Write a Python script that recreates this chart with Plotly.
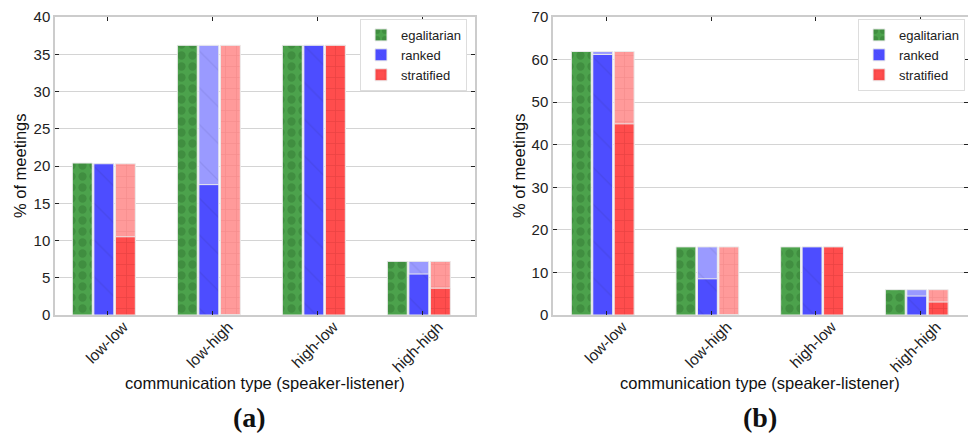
import plotly.graph_objects as go

categories = ["low-low", "low-high", "high-low", "high-high"]

# panel (a)
a_egal = [20.4, 36.2, 36.2, 7.2]
a_rank_total = [20.3, 36.2, 36.2, 7.2]
a_rank_part = [20.3, 17.5, 36.2, 5.5]
a_strat_total = [20.3, 36.2, 36.2, 7.2]
a_strat_part = [10.5, 0.0, 36.2, 3.6]

# panel (b)
b_egal = [61.9, 16.0, 16.0, 5.95]
b_rank_total = [61.9, 16.0, 16.0, 5.95]
b_rank_part = [61.2, 8.5, 16.0, 4.45]
b_strat_total = [61.9, 16.0, 16.0, 5.95]
b_strat_part = [44.9, 0.0, 16.0, 3.05]

y_ticks_a = [0, 5, 10, 15, 20, 25, 30, 35, 40]
y_ticks_b = [0, 10, 20, 30, 40, 50, 60, 70]

GREEN = "#4ca24c"
BLUE = "#4d4dff"
BLUE_L = "#9a9aff"
RED = "#ff4d4d"
RED_L = "#ff9a9a"
EDGE = "rgba(235,235,235,1)"
W = 0.19
OFF = [-0.335, -0.13, 0.075]

fig = go.Figure()

def add_panel(xa, ya, leg, egal, rt, rp, st, sp):
    x = list(range(len(categories)))
    fig.add_trace(go.Bar(x=x, y=egal, name="egalitarian", offset=OFF[0],
                         marker=dict(color=GREEN, line=dict(color=EDGE, width=1),
                                     pattern=dict(shape=".", fgcolor="rgba(20,70,20,0.45)",
                                                  size=11, solidity=0.45, fillmode="overlay")),
                         xaxis=xa, yaxis=ya, legend=leg, width=W))
    fig.add_trace(go.Bar(x=x, y=rt, name="ranked", offset=OFF[1], showlegend=False,
                         marker=dict(color=BLUE_L, line=dict(color=EDGE, width=1),
                                     pattern=dict(shape="\\", fgcolor="rgba(60,60,140,0.25)",
                                                  size=26, solidity=0.05, fillmode="overlay")),
                         xaxis=xa, yaxis=ya, legend=leg, width=W))
    fig.add_trace(go.Bar(x=x, y=rp, name="ranked", offset=OFF[1],
                         marker=dict(color=BLUE, line=dict(color=EDGE, width=1),
                                     pattern=dict(shape="\\", fgcolor="rgba(40,40,120,0.3)",
                                                  size=26, solidity=0.05, fillmode="overlay")),
                         xaxis=xa, yaxis=ya, legend=leg, width=W))
    fig.add_trace(go.Bar(x=x, y=st, name="stratified", offset=OFF[2], showlegend=False,
                         marker=dict(color=RED_L, line=dict(color=EDGE, width=1),
                                     pattern=dict(shape="+", fgcolor="rgba(200,80,80,0.35)",
                                                  size=11, solidity=0.12, fillmode="overlay")),
                         xaxis=xa, yaxis=ya, legend=leg, width=W))
    fig.add_trace(go.Bar(x=x, y=sp, name="stratified", offset=OFF[2],
                         marker=dict(color=RED, line=dict(color=EDGE, width=1),
                                     pattern=dict(shape="+", fgcolor="rgba(140,20,20,0.4)",
                                                  size=11, solidity=0.12, fillmode="overlay")),
                         xaxis=xa, yaxis=ya, legend=leg, width=W))

add_panel("x", "y", "legend", a_egal, a_rank_total, a_rank_part, a_strat_total, a_strat_part)
add_panel("x2", "y2", "legend2", b_egal, b_rank_total, b_rank_part, b_strat_total, b_strat_part)

FONT = "Liberation Sans, Arial, sans-serif"
ydom = [(435 - 315) / 435, (435 - 17) / 435]

xcommon = dict(tickmode="array", tickvals=list(range(4)), ticktext=categories,
               tickangle=-45, ticks="inside", ticklen=4, tickcolor="#222",
               ticklabelshift=16, ticklabelstandoff=-5,
               showline=True, linecolor="#cccccc", linewidth=1.5, mirror="ticks",
               showgrid=False, zeroline=False, automargin=False,
               tickfont=dict(family=FONT, size=15.5, color="#222"))
ycommon = dict(ticks="inside", ticklen=4, tickcolor="#222",
               showline=True, linecolor="#cccccc", linewidth=1.5, mirror="ticks",
               showgrid=True, gridcolor="#d4d4d4", gridwidth=1, zeroline=False,
               automargin=False,
               tickfont=dict(family=FONT, size=15, color="#222"))

fig.update_layout(
    width=968, height=435,
    margin=dict(l=0, r=0, t=0, b=0),
    paper_bgcolor="white", plot_bgcolor="white",
    barmode="overlay",
    xaxis=dict(domain=[55 / 968, 475 / 968], range=[-0.5, 3.5], anchor="y", **xcommon),
    yaxis=dict(domain=ydom, range=[0, 40], tickvals=y_ticks_a, anchor="x", **ycommon),
    xaxis2=dict(domain=[553 / 968, 967.5 / 968], range=[-0.51, 3.45], anchor="y2", **xcommon),
    yaxis2=dict(domain=ydom, range=[0, 70], tickvals=y_ticks_b, anchor="x2", **ycommon),
    legend=dict(x=467 / 968, xanchor="right", y=1 - 19 / 435, yanchor="top",
                bgcolor="white", bordercolor="#dddddd", borderwidth=1,
                font=dict(family=FONT, size=13, color="#222"), tracegroupgap=0),
    legend2=dict(x=965 / 968, xanchor="right", y=1 - 19 / 435, yanchor="top",
                 bgcolor="white", bordercolor="#dddddd", borderwidth=1,
                 font=dict(family=FONT, size=13, color="#222"), tracegroupgap=0),
    showlegend=True,
)

annos = [
    dict(text="% of meetings", x=20 / 968, y=1 - 166 / 435, textangle=-90),
    dict(text="% of meetings", x=519 / 968, y=1 - 166 / 435, textangle=-90),
    dict(text="communication type (speaker-listener)", x=265 / 968, y=1 - 383 / 435),
    dict(text="communication type (speaker-listener)", x=760 / 968, y=1 - 383 / 435),
]
for a in annos:
    fig.add_annotation(xref="paper", yref="paper", showarrow=False,
                       xanchor="center", yanchor="middle",
                       font=dict(family=FONT, size=16.5, color="#111"), **a)
for txt, xc in [("(a)", 250), ("(b)", 760)]:
    fig.add_annotation(xref="paper", yref="paper", showarrow=False, text="<b>%s</b>" % txt,
                       x=xc / 968, y=1 - 417 / 435, xanchor="center", yanchor="middle",
                       font=dict(family="Liberation Serif, Times New Roman, serif", size=28, color="#111"))

fig.write_html("out.html", config={"displayModeBar": False},
               post_script="document.body.style.margin='0';document.body.style.overflow='hidden';")
